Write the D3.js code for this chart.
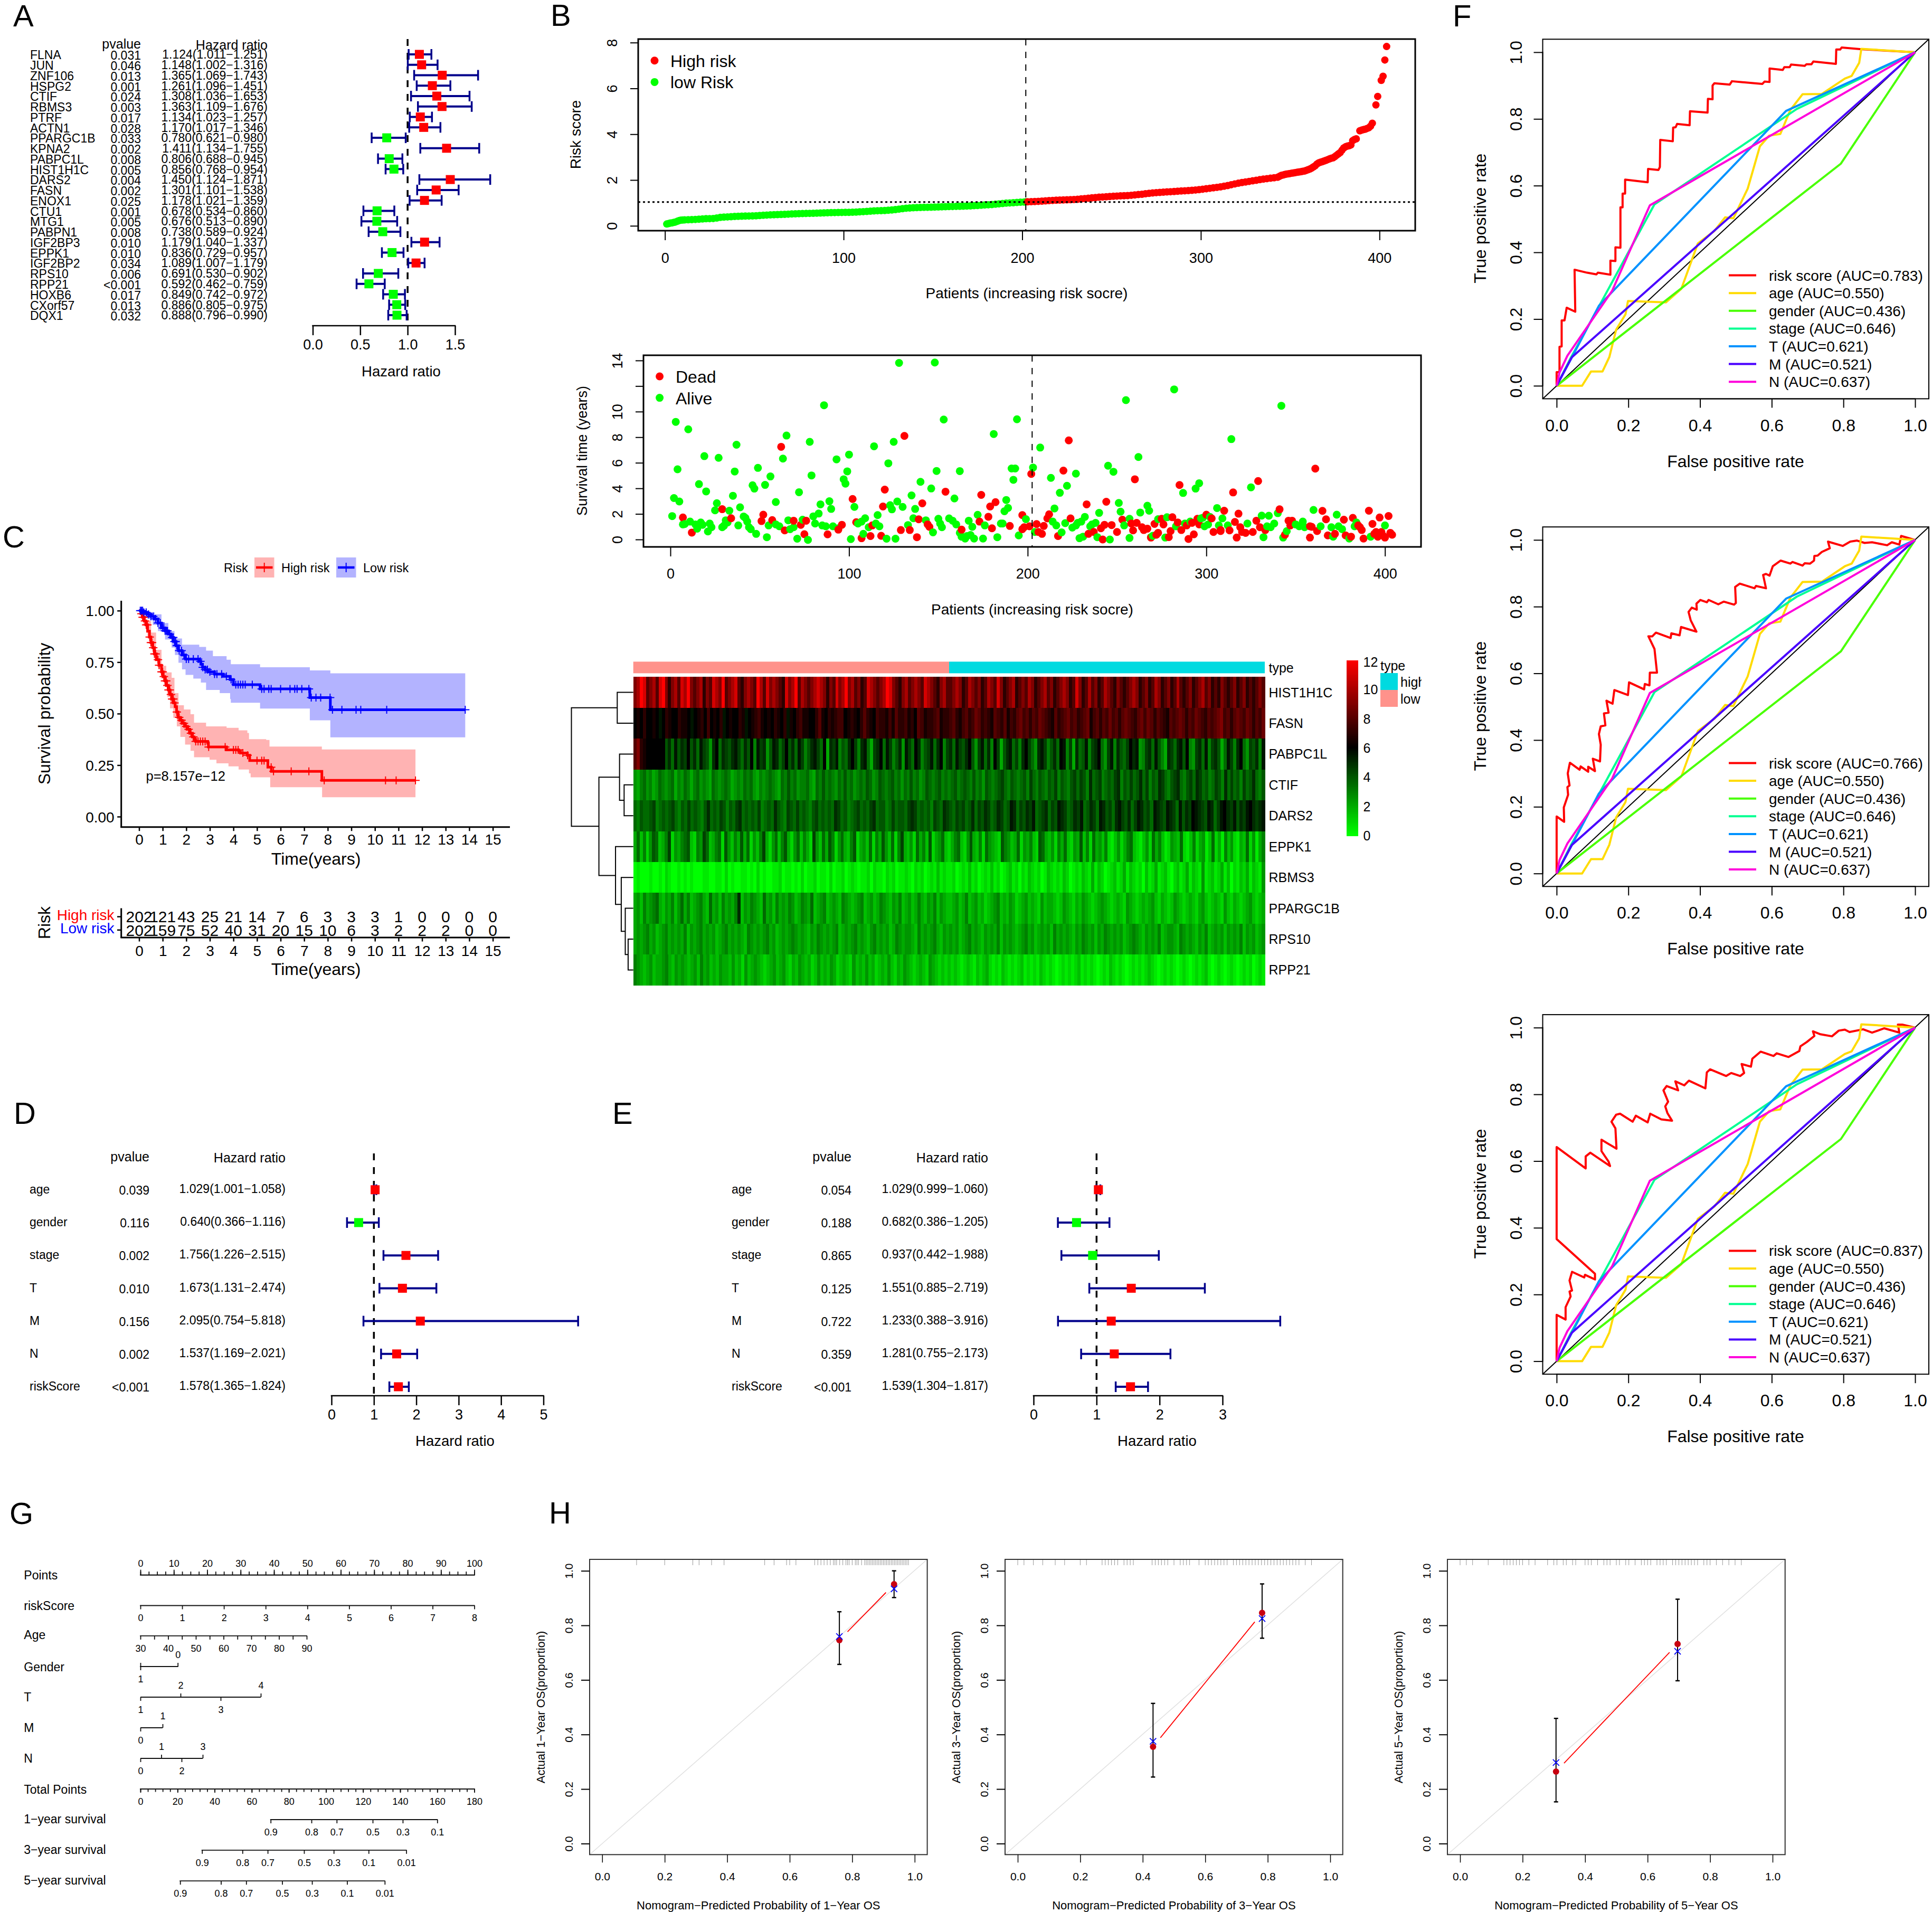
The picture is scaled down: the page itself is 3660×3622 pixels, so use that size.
<!DOCTYPE html>
<html><head><meta charset="utf-8">
<script src="https://cdn.jsdelivr.net/npm/d3@7"></script>
<style>html,body{margin:0;padding:0;background:#fff}svg{display:block}</style></head>
<body><script>
// ---------- Panel A data ----------
const geneNames=["FLNA","JUN","ZNF106","HSPG2","CTIF","RBMS3","PTRF","ACTN1","PPARGC1B","KPNA2","PABPC1L","HIST1H1C","DARS2","FASN","ENOX1","CTU1","MTG1","PABPN1","IGF2BP3","EPPK1","IGF2BP2","RPS10","RPP21","HOXB6","CXorf57","DQX1"];
const genePvals=["0.031","0.046","0.013","0.001","0.024","0.003","0.017","0.028","0.033","0.002","0.008","0.005","0.004","0.002","0.025","0.001","0.005","0.008","0.010","0.010","0.034","0.006","<0.001","0.017","0.013","0.032"];
const geneHR=[1.124,1.148,1.365,1.261,1.308,1.363,1.134,1.170,0.780,1.411,0.806,0.856,1.450,1.301,1.178,0.678,0.676,0.738,1.179,0.836,1.089,0.691,0.592,0.849,0.886,0.888];
const geneLow=[1.011,1.002,1.069,1.096,1.036,1.109,1.023,1.017,0.621,1.134,0.688,0.768,1.124,1.101,1.021,0.534,0.513,0.589,1.040,0.729,1.007,0.530,0.462,0.742,0.805,0.796];
const geneHigh=[1.251,1.316,1.743,1.451,1.653,1.676,1.257,1.346,0.980,1.755,0.945,0.954,1.871,1.538,1.359,0.860,0.890,0.924,1.337,0.957,1.179,0.902,0.759,0.972,0.975,0.990];
// ---------- Panels D / E data ----------
const clinNames=["age","gender","stage","T","M","N","riskScore"];
const uniP=["0.039","0.116","0.002","0.010","0.156","0.002","<0.001"];
const uniHR=[1.029,0.640,1.756,1.673,2.095,1.537,1.578];
const uniLow=[1.001,0.366,1.226,1.131,0.754,1.169,1.365];
const uniHigh=[1.058,1.116,2.515,2.474,5.818,2.021,1.824];
const multiP=["0.054","0.188","0.865","0.125","0.722","0.359","<0.001"];
const multiHR=[1.029,0.682,0.937,1.551,1.233,1.281,1.539];
const multiLow=[0.999,0.386,0.442,0.885,0.388,0.755,1.304];
const multiHigh=[1.060,1.205,1.988,2.719,3.916,2.173,1.817];
// ---------- Panel B data ----------
const lowRiskScores=[[1,.08],[2,.1],[3,.12],[4,.13],[5,.15],[6,.17],[7,.2],[8,.23],[9,.25],[10,.255],[11,.26],[13,.265],[15,.27],[17,.28],[19,.29],[21,.3],[23,.31],[25,.315],[27,.32],[29,.34],[31,.37],[33,.38],[35,.39],[37,.4],[39,.41],[41,.415],[43,.42],[45,.425],[47,.43],[49,.435],[51,.44],[53,.45],[55,.46],[57,.47],[59,.48],[61,.485],[63,.49],[65,.495],[67,.5],[69,.51],[71,.52],[73,.525],[75,.53],[77,.535],[79,.54],[81,.545],[83,.55],[85,.555],[87,.56],[89,.565],[91,.57],[93,.575],[95,.58],[97,.582],[99,.585],[101,.588],[103,.59],[105,.595],[107,.6],[109,.61],[111,.62],[113,.63],[115,.64],[117,.65],[119,.66],[121,.665],[123,.67],[125,.68],[127,.69],[129,.71],[131,.73],[133,.75],[135,.77],[137,.78],[139,.79],[141,.795],[143,.8],[145,.805],[147,.81],[149,.815],[151,.82],[153,.825],[155,.83],[157,.835],[159,.84],[161,.845],[163,.85],[165,.855],[167,.86],[169,.865],[171,.87],[173,.88],[175,.89],[177,.9],[179,.91],[181,.92],[183,.93],[185,.945],[187,.96],[189,.975],[191,.99],[193,1],[195,1.01],[197,1.02],[199,1.03],[201,1.04],[202,1.05]];
const highRiskScores=[[203,1.05],[205,1.055],[207,1.06],[209,1.07],[211,1.08],[213,1.09],[215,1.1],[217,1.11],[219,1.12],[221,1.125],[223,1.13],[225,1.135],[227,1.14],[229,1.15],[231,1.16],[233,1.175],[235,1.19],[237,1.205],[239,1.22],[241,1.235],[243,1.25],[245,1.26],[247,1.27],[249,1.28],[251,1.29],[253,1.3],[255,1.31],[257,1.315],[259,1.32],[261,1.335],[263,1.35],[265,1.365],[267,1.38],[269,1.4],[271,1.42],[273,1.435],[275,1.45],[277,1.46],[279,1.47],[281,1.48],[283,1.49],[285,1.5],[287,1.51],[289,1.52],[291,1.53],[293,1.54],[295,1.55],[297,1.565],[299,1.58],[301,1.6],[303,1.62],[305,1.64],[307,1.66],[309,1.68],[311,1.7],[313,1.73],[315,1.76],[317,1.795],[319,1.83],[321,1.86],[323,1.89],[325,1.915],[327,1.94],[329,1.965],[331,1.99],[333,2.015],[335,2.04],[337,2.06],[339,2.08],[341,2.1],[343,2.12],[344,2.16],[345,2.2],[346,2.22],[347,2.24],[348,2.26],[349,2.27],[350,2.285],[351,2.3],[352,2.31],[353,2.325],[354,2.34],[355,2.35],[356,2.365],[357,2.38],[358,2.39],[359,2.42],[360,2.45],[361,2.48],[362,2.52],[363,2.57],[364,2.62],[365,2.7],[366,2.75],[367,2.78],[368,2.8],[369,2.83],[370,2.86],[371,2.89],[372,2.92],[373,2.95],[374,2.97],[375,3.02],[376,3.08],[377,3.14],[378,3.2],[379,3.3],[380,3.4],[381,3.45],[382,3.48],[383,3.5],[384,3.53],[385,3.72],[386,3.77],[387,3.8],[389,4.15],[390,4.18],[391,4.2],[392,4.22],[393,4.25],[394,4.28],[395,4.35],[396,4.48],[398,5.28],[399,5.65],[401,6.35],[402,6.53],[403,7.24],[404,7.83]];
const alivePatients=[[128,13.81],[148,13.84],[282,11.74],[255,10.9],[86,10.5],[342,10.46],[153,9.38],[194,9.4],[3,9.2],[10,8.62],[181,8.25],[65,8.13],[314,7.85],[78,7.64],[125,7.64],[37,7.41],[114,7.29],[207,7.19],[100,6.64],[19,6.52],[27,6.39],[63,6.33],[93,6.27],[262,6.45],[122,5.96],[49,5.6],[4,5.49],[203,5.63],[191,5.55],[193,5.55],[149,5.36],[36,5.32],[99,5.33],[162,5.35],[245,5.77],[248,5.3],[227,5.15],[79,5.01],[56,4.93],[213,4.82],[97,4.71],[192,4.67],[98,4.37],[16,4.33],[140,4.51],[53,4.27],[46,4.24],[47,3.98],[222,4.2],[146,3.99],[296,4.4],[294,3.98],[287,3.64],[325,4.08],[218,3.65],[20,3.76],[72,3.7],[35,3.42],[135,3.45],[159,3.21],[188,3.09],[2,3.24],[5,2.97],[59,2.93],[26,2.84],[89,2.99],[127,2.97],[84,2.75],[130,2.55],[251,2.86],[267,2.64],[103,2.55],[39,2.52],[25,2.28],[123,2.68],[124,2.36],[90,2.39],[189,2.47],[187,2.21],[33,2.25],[137,2.39],[215,2.43],[306,2.46],[252,2.18],[360,2.31],[268,2.25],[263,2.11],[240,2.08],[116,1.91],[83,2.03],[172,1.93],[340,2.06],[331,1.87],[335,1.86],[1,1.83],[232,1.77],[373,1.94],[80,1.81],[41,1.8],[298,1.69],[136,1.66],[199,1.59],[309,1.65],[150,1.62],[156,1.65],[109,1.66],[257,1.62],[273,1.59],[278,1.74],[302,1.77],[7,1.18],[8,1.21],[11,1.4],[14,1.18],[17,1.33],[18,1.15],[22,1.25],[23,.96],[21,.63],[15,.85],[29,.96],[30,1.08],[31,1.5],[32,1.33],[38,1.1],[42,1.69],[43,1.4],[44,.96],[45,.81],[48,.44],[54,.18],[55,1.1],[59,1.18],[61,1.03],[66,1.5],[67,.81],[69,.96],[71,.06],[77,-.03],[74,1.55],[81,1.25],[85,1.1],[87,1.03],[91,1.03],[94,.88],[101,.03],[105,1.25],[108,.44],[107,1.4],[111,.96],[115,1.25],[117,1.03],[121,.06],[126,.06],[133,1.13],[143,1.5],[147,.56],[152,.96],[151,1.25],[158,1.47],[160,1.18],[162,.52],[163,.22],[165,.07],[166,.27],[168,.35],[170,.07],[169,.99],[167,1.47],[175,.07],[176,1.1],[183,.18],[185,1.25],[186,1.25],[195,.32],[204,.59],[214,1.4],[216,1.1],[219,.56],[221,1.28],[225,.93],[227,1.1],[229,.1],[231,.22],[228,1.3],[230,1.4],[235,1.03],[236,1.18],[238,1.3],[239,.18],[246,0],[254,1.1],[257,.12],[269,.18],[270,.29],[277,.15],[283,1.03],[288,1.25],[291,1.4],[297,1.65],[299,1.03],[301,1.18],[307,1.1],[312,1.1],[323,1.25],[332,.18],[334,1.03],[336,.96],[338,1.25],[343,.15],[345,.65],[350,1.18],[352,1.03],[354,1.4],[355,.96],[364,1.03],[370,.96],[371,.22],[374,1.03],[376,.81],[380,.07],[384,1.33],[383,1.03],[392,.22],[400,1.1]];
const deadPatients=[[131,8.1],[223,7.75],[62,7.25],[361,5.54],[220,5.39],[202,5.13],[260,4.71],[329,4.57],[285,4.26],[120,3.9],[154,3.74],[315,3.68],[174,3.49],[102,3.17],[182,2.92],[141,2.83],[179,2.58],[233,2.75],[244,2.95],[119,2.58],[29,2.37],[341,2.36],[365,2.24],[310,2.25],[391,2.25],[318,2.02],[197,1.91],[212,1.97],[178,1.78],[52,1.94],[7,1.72],[34,1.66],[224,1.65],[300,1.94],[303,1.65],[281,1.74],[275,1.62],[295,1.62],[292,1.3],[367,1.58],[377,1.55],[382,1.69],[397,1.72],[402,1.84],[139,1.58],[57,1.52],[51,1.44],[76,1.47],[69,1.47],[211,1.65],[205,1.21],[209,1.06],[173,1.4],[346,1.47],[253,1.55],[258,1.25],[261,1.3],[271,1.22],[276,1.18],[284,1.33],[289,1.1],[296,1.18],[316,1.37],[328,1.47],[247,1.13],[243,1.15],[104,1.35],[113,1.1],[96,1.15],[73,1.15],[144,1.18],[145,.99],[190,1.06],[180,.88],[201,1.03],[197,.81],[198,.96],[264,.96],[265,.74],[267,.85],[280,.66],[286,.74],[293,.4],[304,.59],[308,.74],[313,.71],[319,.96],[322,.52],[326,.59],[330,.96],[333,.74],[348,1.47],[347,1.1],[358,1.03],[359,.99],[362,.66],[368,.32],[372,.44],[378,.32],[381,.22],[385,1.1],[387,.74],[393,1.22],[358,.15],[163,.77],[129,.74],[134,.74],[64,.71],[12,.54],[75,.41],[88,.4],[107,.1],[112,.27],[118,.29],[138,.18],[206,.59],[208,.44],[217,.27],[234,.44],[237,.59],[241,.88],[242,0],[250,.59],[259,.71],[269,.15],[272,.37],[273,.52],[279,.19],[290,.04],[317,.15],[344,.37],[388,.07],[394,.44],[396,.22],[398,.59],[400,.15],[403,.52],[404,.37],[399,.29],[395,.59],[386,.96],[320,.59],[94,.77],[308,.66]];
// ---------- Panel B heatmap (letters a..y = 0..12 in half units) ----------
const heatGenes=["HIST1H1C","FASN","PABPC1L","CTIF","DARS2","EPPK1","RBMS3","PPARGC1B","RPS10","RPP21"];
const heatHIST="suywqsuqwysosuqwuysqsuosqwusyqsuwqosusqyuqwsusqowsuyqusqsuwusosqwsuysuqsoqwusqsuywsqosuqsusqwusqosuqqsusoqusqsoqusqwsoqsuoqsqusoqsuqsoqsusoqwsoquqsoqusqosqoqsusoqsoqusoqsoquqoqsoqsuqsoqosqoqsoqsoqoqsq";
const heatFASN="mnmommnmlmonmmonnmlmnompmnmolmnmmonlmnopnmnmonmolnmopnnmmoqnmonoppmnonmoqonmpoonpnqoopnomqpnoopqnoopqonpqoprqoponqpoqnpoqrpqoqprqponqopqrpqopqrnpqoqprpqoqrqpoqrprqoqponqpqrqoqprqpoqpqrspqoqrqprqoqpr";
const heatPABPC1L="qsonmmmmmmikhlikjmikhljifkmhkjikljhkimgljkfilkhjmikhljgikljhmekjlgihkmjgklhejkmhljgikfljhmkgijlhkmgjkhljikmifjlhkgmjeiklhjgkmjhfkljgikhmlgjekhilgjkmhfjlgkihjmklfgjkhligekjhklimgfjkhlgjkiehljgkmhfjikgl";
const heatCTIF="feghfgefhgfghegfhgeghfgfehgfghgefgfhghfegfghgfehgighfgghfehgighgfhgighfghgihfgihghighfhgighfgihghighghighihgighfihghijhgihghigjhgihgihjgihgijhjigkhijghihjkgihjhikhjgihkjhgijkhgijhkjhighjigkhjhigjhikhgi";
const heatDARS2="hgihhijghihijhgihjhihgikhihjigihjkhihihjghihkihgjihjhihgijhihihkjhighijhihjkhiighjhiihjkjhihigjihkjihjijhikhjikjhikjhilkhjikjlhijkhjilkjhikjlhikjhlkijhkljikhjlkijhlkjilkjhlikjmlkjilkhjlmkjlikjlmkjkl";
const heatEPPK1="ehdgcfihdegjcfeghidcgfjhdeghcifdgeiehcfdgjecfhdgiecfhdgecjfdheigcfhedgicefdhcgeifdhcgjedfchegdicefhdceghdcfiedgchfedcigfdehcfegdcihedfcgehdcfeidgchefdgcbdfceghdcbdfchegdbcfedhcbdgcefbdhcebgdfcbedhcfbeg";
const heatRBMS3="abaaabaabacbaabababaaabbaabbacabaabbabacabaabbcabbabacabbcabbacabbcabcbabbcacbbacbcabbcbacbcabcbdbcbbcabcbdbcabcbdbcabcdbcacbdcbcabdcbcbdcabcbdcbebdcabcdbcebdcbcadbcebcdbacdbcebdcbfbcdbcebdacbdcebdcbf";
const heatPPARGC1B="efdgefghedfegdfhegdefgedhefdgefegkdfegfedhefdgefegfdegfehdefgdefedgfedefgdefdegfedfegdefdegedfegdfeddefdegdefdecdefgdedfecdefdedcfdeedcdfedcedfedcdefedcdedcfedcdedefdcedcdfedcdedcefdcdedcfdcedcdefdcde";
const heatRPS10="efefgefdefgefefegdfefgefefdefgefefedgfefefgefdefefgfefedfegfefefgdefefgefedfgefefdegfeffedgefefgedfefefdefgefedfefegdfefedefgefdefefdgefefedfegfefdfegfefefdefgfedfefegdeffedgfefedfegdefefdfefegdfefdef";
const heatRPP21="gfedefdeefgedfefedefdgefdedfeedfdecfdefedcdefdefdcedfedecdfdedfecdedcfdedfdecdedfdcedfedcdedcfedcdcdcdcbcdcbdcdecbcbdcbcbcdbcbcbdcbcbabcbcbcdbcbcbabcbdcbcbabcbcbcdcbabcbcbabcbabcbcdbabcbabcbabcbcabcb";
const heatRows=[heatHIST,heatFASN,heatPABPC1L,heatCTIF,heatDARS2,heatEPPK1,heatRBMS3,heatPPARGC1B,heatRPS10,heatRPP21];
const dendroMerges=[[0,1,28],[3,4,16],[2,11,24],[8,9,9],[7,13,14],[6,14,21],[5,15,31],[12,16,60],[10,17,108]];
// ---------- Panel C data ----------
const kmHigh=[[0,1],[.08,.985],[.146,.968],[.22,.95],[.29,.931],[.36,.9],[.44,.872],[.5,.845],[.58,.82],[.65,.79],[.73,.762],[.84,.735],[.95,.703],[1.02,.68],[1.09,.659],[1.16,.637],[1.24,.615],[1.31,.593],[1.38,.571],[1.46,.552],[1.53,.534],[1.59,.508],[1.65,.482],[1.73,.468],[1.82,.453],[1.93,.438],[2.04,.424],[2.15,.405],[2.26,.387],[2.33,.375],[2.40,.365],[2.91,.357],[2.94,.338],[3.64,.338],[3.71,.324],[4.22,.32],[4.30,.309],[4.59,.298],[4.69,.272],[5.39,.272],[5.46,.24],[5.61,.22],[7.72,.22],[7.75,.176],[11.72,.176]];
const kmHighUp=[[0,1],[.25,.95],[.51,.894],[.72,.81],[.95,.732],[1.15,.70],[1.38,.674],[1.5,.6],[1.67,.541],[1.9,.52],[2.18,.497],[2.33,.456],[2.84,.438],[3.71,.431],[4.22,.419],[4.59,.406],[4.66,.376],[5.39,.372],[5.53,.34],[7.72,.34],[7.75,.326],[11.72,.326]];
const kmHighLo=[[0,1],[.18,.93],[.36,.865],[.58,.79],[.80,.718],[.95,.67],[1.09,.629],[1.2,.58],[1.31,.526],[1.45,.48],[1.60,.438],[1.75,.387],[1.95,.35],[2.18,.32],[2.33,.288],[2.99,.276],[3.28,.259],[3.79,.244],[4.22,.229],[4.66,.21],[4.73,.191],[5.53,.191],[5.56,.143],[7.75,.143],[7.76,.094],[11.72,.094]];
const kmLow=[[0,1],[.18,.992],[.36,.982],[.5,.972],[.66,.96],[.8,.94],[.95,.916],[1.1,.902],[1.24,.887],[1.35,.87],[1.46,.85],[1.57,.83],[1.67,.806],[1.82,.785],[1.97,.765],[2.55,.754],[2.62,.74],[2.69,.725],[2.8,.714],[2.91,.703],[3.2,.692],[3.57,.681],[3.86,.666],[4.0,.641],[5.10,.641],[5.13,.62],[7.21,.62],[7.24,.578],[8.08,.578],[8.11,.519],[13.83,.519]];
const kmLowUp=[[0,1],[.33,.992],[.66,.982],[.95,.94],[1.24,.901],[1.5,.865],[1.82,.835],[2.55,.824],[2.84,.806],[3.13,.779],[3.71,.762],[3.89,.74],[5.10,.74],[5.13,.725],[7.21,.725],[7.24,.71],[8.08,.71],[8.11,.696],[13.83,.696]];
const kmLowLo=[[0,1],[.18,.98],[.36,.96],[.58,.93],[.80,.901],[1.1,.86],[1.38,.821],[1.52,.785],[1.67,.747],[1.82,.715],[1.97,.688],[2.3,.67],[2.62,.651],[2.84,.615],[3.42,.6],[3.86,.571],[3.89,.553],[5.10,.553],[5.13,.525],[7.21,.525],[7.24,.468],[8.08,.468],[8.11,.385],[13.83,.385]];
const censorHigh=[.1,.15,.2,.25,.3,.35,.45,.5,.55,.6,.65,.7,.8,.85,.95,1,1.05,1.1,1.15,1.2,1.25,1.3,1.35,1.4,1.45,1.5,1.6,1.7,1.8,1.9,2.0,2.1,2.2,2.3,2.4,2.5,2.6,2.7,2.8,2.95,3.65,4.0,4.1,4.2,4.4,4.6,5.0,5.2,5.3,5.6,5.7,6.45,7.2,7.85,10.45,10.9,11.72];
const censorLow=[.05,.1,.15,.2,.3,.4,.5,.6,.7,.8,.9,1.0,1.05,1.1,1.15,1.2,1.3,1.4,1.45,1.5,1.55,1.6,1.7,1.8,1.9,2.0,2.1,2.3,2.5,2.6,2.7,2.8,2.9,3.0,3.2,3.3,3.5,3.7,3.9,4.1,4.2,4.3,4.4,4.5,4.8,5.2,5.3,5.5,5.6,6.0,6.4,6.6,6.7,6.9,7.2,7.3,7.5,7.7,8.1,8.2,8.6,9.2,9.4,10.5,13.83];
const riskHigh=[202,121,43,25,21,14,7,6,3,3,3,1,0,0,0,0];
const riskLow=[202,159,75,52,40,31,20,15,10,6,3,2,2,2,0,0];
// ---------- Panel F data ----------
const rocLabels=["risk score","age","gender","stage","T","M","N"];
const rocColors=["#FF0000","#FFDB00","#49FF00","#00FF92","#0092FF","#4900FF","#FF00DB"];
const rocAge=[[0,0],[.071,0],[.096,.043],[.128,.043],[.147,.086],[.166,.168],[.192,.214],[.199,.254],[.305,.25],[.348,.291],[.394,.427],[.44,.464],[.47,.505],[.493,.502],[.533,.591],[.567,.718],[.593,.75],[.624,.755],[.652,.827],[.686,.874],[.74,.875],[.804,.921],[.823,.929],[.844,.968],[.85,1.01],[1,1]];
const rocGender=[[0,0],[.793,.666],[1,1]];
const rocStage=[[0,0],[.04,.085],[.119,.24],[.273,.544],[.67,.83],[1,1]];
const rocT=[[0,0],[.04,.08],[.118,.24],[.64,.824],[1,1]];
const rocM=[[0,0],[.042,.085],[1,1]];
const rocN=[[0,0],[.008,.04],[.03,.09],[.155,.285],[.26,.541],[1,1]];
const rocRisk1=[[0,0],[0,.041],[.008,.041],[.008,.117],[.014,.118],[.014,.196],[.022,.196],[.028,.234],[.052,.222],[.05,.348],[.085,.339],[.111,.334],[.115,.339],[.15,.333],[.15,.375],[.164,.374],[.164,.415],[.178,.414],[.178,.535],[.184,.535],[.184,.576],[.191,.576],[.191,.618],[.254,.61],[.255,.65],[.284,.647],[.288,.656],[.289,.737],[.324,.733],[.325,.774],[.332,.775],[.336,.785],[.371,.781],[.372,.823],[.421,.819],[.422,.86],[.435,.859],[.435,.9],[.44,.907],[.483,.903],[.489,.913],[.574,.905],[.58,.912],[.594,.911],[.594,.951],[.631,.947],[.635,.955],[.65,.955],[.654,.963],[.692,.959],[.697,.964],[.711,.964],[.716,.972],[.779,.965],[.78,1.008],[.791,1.008],[.795,1.014],[.85,1.009],[1,1]];
const rocRisk2=[[0,0],[0,.171],[.021,.155],[.02,.198],[.032,.236],[.03,.259],[.036,.264],[.031,.3],[.037,.332],[.064,.311],[.067,.321],[.088,.305],[.088,.32],[.107,.307],[.101,.344],[.121,.336],[.123,.386],[.118,.418],[.123,.441],[.136,.444],[.132,.48],[.145,.482],[.139,.518],[.156,.509],[.161,.55],[.199,.535],[.202,.573],[.244,.552],[.246,.568],[.259,.564],[.26,.602],[.28,.602],[.273,.673],[.256,.711],[.267,.711],[.277,.722],[.318,.706],[.32,.72],[.343,.714],[.347,.739],[.39,.725],[.374,.759],[.368,.784],[.377,.797],[.391,.791],[.39,.809],[.401,.82],[.419,.813],[.424,.82],[.451,.807],[.466,.815],[.495,.806],[.5,.811],[.498,.859],[.511,.869],[.552,.855],[.556,.862],[.584,.855],[.576,.895],[.584,.898],[.594,.893],[.603,.921],[.625,.938],[.652,.929],[.658,.934],[.686,.923],[.692,.93],[.707,.929],[.718,.938],[.719,.952],[.728,.953],[.74,.964],[.762,.975],[.757,.995],[.798,.982],[.819,.995],[.838,.998],[.859,.991],[.88,.993],[.922,.984],[.935,.993],[.956,.986],[.961,1.012],[1,1]];
const rocRisk3=[[0,0],[0,.139],[.025,.125],[.025,.162],[.039,.194],[.036,.209],[.043,.212],[.036,.242],[.043,.268],[.077,.251],[.079,.259],[.107,.245],[.107,.262],[0,.366],[0,.642],[.081,.578],[.081,.614],[.094,.625],[.149,.585],[.145,.598],[.125,.63],[.125,.664],[.167,.637],[.164,.698],[.153,.718],[.166,.739],[.177,.742],[.212,.718],[.221,.736],[.254,.716],[.261,.742],[.292,.725],[.322,.721],[.309,.744],[.303,.764],[.311,.778],[.298,.812],[.307,.825],[.339,.812],[.331,.839],[.356,.827],[.369,.841],[.415,.818],[.419,.866],[.428,.875],[.473,.855],[.487,.864],[.512,.855],[.523,.864],[.516,.891],[.542,.883],[.546,.907],[.569,.928],[.605,.915],[.614,.923],[.647,.912],[.677,.93],[.68,.944],[.698,.957],[.719,.975],[.715,.989],[.736,.98],[.768,.974],[.787,.991],[.804,.994],[.817,.987],[.855,.995],[.88,.985],[.914,.998],[.956,.985],[.952,1.009],[.964,1.009],[1,1]];
const rocAucRisk=["0.783","0.766","0.837"];
const rocAucOther=["0.550","0.436","0.646","0.621","0.521","0.637"];
// ---------- Panel G data ----------
const surv1Pts=[70.2,92.2,105.8,125.2,141.4,160], surv1Lab=["0.9","0.8","0.7","0.5","0.3","0.1"];
const surv3Pts=[33.2,55,68.6,88.2,104.2,123,143.3], surv3Lab=["0.9","0.8","0.7","0.5","0.3","0.1","0.01"];
const surv5Pts=[21.4,43.4,57,76.4,92.5,111.4,131.7], surv5Lab=["0.9","0.8","0.7","0.5","0.3","0.1","0.01"];
// ---------- Panel H data ----------
const calPred=[[.759,.934],[.433,.782],[.307,.696]];
const calObs=[[.746,.951],[.355,.846],[.264,.732]];
const calUp=[[.85,1.0],[.514,.952],[.459,.896]];
const calLo=[[.657,.902],[.244,.753],[.153,.597]];
const calX=[[.759,.934],[.375,.825],[.297,.705]];
const rug1=[.11,.2,.29,.31,.35,.39,.52,.55,.59,.6,.62,.68,.69,.7,.71,.72,.73,.74,.745,.75,.76,.77,.78,.785,.79,.8,.81,.815,.82,.83,.84,.845,.85,.855,.86,.865,.87,.875,.88,.885,.89,.895,.9,.905,.91,.915,.92,.925,.93,.935,.94,.945,.95,.955,.96,.965,.97,.975,.98];
const rug2=[0,.02,.05,.08,.12,.15,.2,.22,.27,.28,.29,.3,.31,.32,.34,.35,.36,.37,.43,.44,.45,.46,.47,.48,.5,.52,.53,.54,.55,.58,.6,.61,.62,.63,.64,.65,.66,.67,.69,.7,.71,.72,.73,.74,.75,.76,.77,.78,.79,.8,.81,.82,.83,.84,.85,.86,.87,.88,.89,.9,.92,.94];
const rug3=[0,.02,.04,.09,.14,.15,.16,.17,.18,.19,.2,.22,.24,.28,.3,.31,.33,.34,.36,.37,.4,.41,.42,.44,.46,.47,.48,.5,.51,.53,.54,.56,.58,.59,.6,.61,.63,.64,.65,.66,.68,.69,.7,.71,.72,.73,.74,.75,.76,.78,.79,.8,.82,.84,.86,.88,.9];

// ================= helpers =================
const F='"Liberation Sans",Arial,Helvetica,sans-serif';
const svg=d3.select("body").append("svg").attr("width",3660).attr("height",3622).attr("viewBox","0 0 3660 3622");
svg.append("rect").attr("width",3660).attr("height",3622).attr("fill","#fff");
function T(x,y,s,o={}){
  const e=svg.append("text").attr("font-family",F).attr("font-size",o.fs||23).attr("fill",o.fill||"#000")
    .attr("text-anchor",o.a||"start").attr("dy",o.dy||".36em").text(s);
  if(o.rot) e.attr("transform",`translate(${x},${y}) rotate(${o.rot})`); else e.attr("x",x).attr("y",y);
  return e;
}
function L(g,x1,y1,x2,y2,c,w,d){const e=g.append("line").attr("x1",x1).attr("y1",y1).attr("x2",x2).attr("y2",y2).attr("stroke",c||"#000").attr("stroke-width",w||2);if(d)e.attr("stroke-dasharray",d);return e;}
function axis(orient,scale,values,pos,o={}){
  const gen=(orient==="bottom"?d3.axisBottom:orient==="top"?d3.axisTop:d3.axisLeft)(scale)
    .tickValues(values).tickSize(o.size==null?15:o.size).tickPadding(0).tickFormat(o.fmt||(d=>d));
  const g=svg.append("g").attr("transform",orient==="left"?`translate(${pos},0)`:`translate(0,${pos})`).call(gen);
  g.attr("font-family",F).attr("font-size",o.fs||27);
  g.select(".domain").remove();
  g.selectAll(".tick line").attr("stroke",o.c||"#000").attr("stroke-width",o.lw||2);
  const ext=d3.extent(values.map(v=>scale(v)));
  if(o.line!==false){
    if(orient==="left") L(g,0,ext[0],0,ext[1],o.c||"#000",o.lw||2).attr("stroke-linecap","square");
    else L(g,ext[0],0,ext[1],0,o.c||"#000",o.lw||2).attr("stroke-linecap","square");
  }
  const t=g.selectAll(".tick text").attr("fill","#000").attr("dy",".36em");
  const c=o.center||40;
  if(orient==="bottom") t.attr("y",c);
  else if(orient==="top") t.attr("y",-c);
  else if(o.rot) t.attr("x",0).attr("y",0).attr("text-anchor","middle").attr("transform",`translate(${-c},0) rotate(-90)`);
  else t.attr("x",-c).attr("text-anchor","end");
  return g;
}
function box(x0,y0,x1,y1,w,c){svg.append("rect").attr("x",x0).attr("y",y0).attr("width",x1-x0).attr("height",y1-y0).attr("fill","none").attr("stroke",c||"#000").attr("stroke-width",w||2.5);}
// letters
[["A",25,50],["B",1043,49],["C",5,1037],["D",26,2129],["E",1160,2129],["F",2752,50],["G",18,2887],["H",1040,2886]]
 .forEach(d=>T(d[1],d[2],d[0],{fs:58,dy:"0"}));

// ================= forest =================
function forest(c){
  const x=d3.scaleLinear().domain([c.ticks[0],c.ticks[c.ticks.length-1]]).range(c.xr);
  const y=i=>c.y0+i*c.dy;
  T(c.pX,c.hy,"pvalue",{fs:25,a:"end"});
  T(c.hX,c.hy+2,"Hazard ratio",{fs:25,a:"end"});
  L(svg,x(1),c.dashTop,x(1),c.axisY,"#000",3.5,"13 13");
  c.names.forEach((n,i)=>{
    T(c.nX,y(i)+c.nOff,n,{fs:c.fs});
    T(c.pX,y(i)+c.pOff,c.p[i],{fs:c.fs,a:"end"});
    T(c.hX,y(i)+c.hOff,`${c.hr[i].toFixed(3)}(${c.lo[i].toFixed(3)}\u2212${c.hi[i].toFixed(3)})`,{fs:c.fs,a:"end"});
  });
  const g=svg.append("g").selectAll("g").data(c.names).join("g");
  g.each(function(n,i){
    const s=d3.select(this),yy=y(i);
    L(s,x(c.lo[i]),yy,x(c.hi[i]),yy,"#00008B",4);
    L(s,x(c.lo[i]),yy-10,x(c.lo[i]),yy+10,"#00008B",3.5);
    L(s,x(c.hi[i]),yy-10,x(c.hi[i]),yy+10,"#00008B",3.5);
    s.append("rect").attr("x",x(c.hr[i])-8.5).attr("y",yy-8.5).attr("width",17).attr("height",17)
      .attr("fill",c.hr[i]>1?"#FF0000":"#00FF00");
  });
  axis("bottom",x,c.ticks,c.axisY,{size:c.tick,center:c.lab-c.axisY,fs:c.tfs,fmt:c.fmt,lw:2.5});
  T(c.tX,c.tY,"Hazard ratio",{fs:27.5,a:"middle"});
}
forest({names:geneNames,p:genePvals,hr:geneHR,lo:geneLow,hi:geneHigh,ticks:[0,.5,1,1.5],xr:[592.5,862],fmt:d3.format(".1f"),
 y0:103,dy:19.76,nX:57,pX:267,hX:507,hy:83,nOff:1,pOff:2,hOff:0,fs:23,dashTop:74,axisY:617,tick:18,lab:652.6,tfs:27,tX:760,tY:703});
forest({names:clinNames,p:uniP,hr:uniHR,lo:uniLow,hi:uniHigh,ticks:[0,1,2,3,4,5],xr:[628,1029.5],
 y0:2253.8,dy:62.2,nX:56,pX:283,hX:541,hy:2191,nOff:-1,pOff:1,hOff:-2,fs:23,dashTop:2185,axisY:2644,tick:18,lab:2679,tfs:27,tX:862,tY:2729});
forest({names:clinNames,p:multiP,hr:multiHR,lo:multiLow,hi:multiHigh,ticks:[0,1,2,3],xr:[1958,2316],
 y0:2253.8,dy:62.2,nX:1386,pX:1613,hX:1872,hy:2191,nOff:-1,pOff:1,hOff:-2,fs:23,dashTop:2185,axisY:2644,tick:18,lab:2679,tfs:27,tX:2192,tY:2729});

// ================= panel B scatter 1 =================
{
 const x=d3.scaleLinear().domain([0,400]).range([1259.7,2613.3]), y=d3.scaleLinear().domain([0,8]).range([427.8,80.7]);
 svg.append("g").selectAll("circle").data(lowRiskScores.map(d=>[...d,"#00FF00"]).concat(highRiskScores.map(d=>[...d,"#FF0000"])))
  .join("circle").attr("cx",d=>x(d[0])).attr("cy",d=>y(d[1])).attr("r",7).attr("fill",d=>d[2]);
 L(svg,1209,y(1.04),2681,y(1.04),"#000",3,"4 5");
 L(svg,x(202),74,x(202),437,"#000",2,"12 12");
 box(1209,74,2681,437,3);
 axis("bottom",x,[0,100,200,300,400],437,{size:18,center:51,fs:27,line:false});
 axis("left",y,[0,2,4,6,8],1209,{size:15,center:50,fs:27,rot:true,line:false});
 T(1090,255,"Risk score",{fs:28,a:"middle",rot:-90});
 T(1945,555,"Patients (increasing risk socre)",{fs:28,a:"middle"});
 svg.append("circle").attr("cx",1240).attr("cy",114.7).attr("r",7.5).attr("fill","#FF0000");
 svg.append("circle").attr("cx",1240).attr("cy",155.4).attr("r",7.5).attr("fill","#00FF00");
 T(1270,115,"High risk",{fs:32}); T(1270,155,"low Risk",{fs:32});
}
// ================= panel B scatter 2 =================
{
 const x=d3.scaleLinear().domain([0,400]).range([1270,2623.7]), y=d3.scaleLinear().domain([0,14]).range([1022,682.9]);
 const all=alivePatients.map(d=>[...d,"#00FF00"]).concat(deadPatients.map(d=>[...d,"#FF0000"])).sort((a,b)=>a[0]-b[0]);
 svg.append("g").selectAll("circle").data(all).join("circle").attr("cx",d=>x(d[0])).attr("cy",d=>y(d[1])).attr("r",7.5).attr("fill",d=>d[2]);
 L(svg,x(202.5),673,x(202.5),1036,"#000",2,"12 12");
 box(1219,673,2692,1036,3);
 axis("bottom",x,[0,100,200,300,400],1036,{size:18,center:50.4,fs:27,line:false});
 axis("left",y,[0,2,4,6,8,10,12,14],1219,{size:15,center:50,fs:27,rot:true,line:false,fmt:d=>d===12?"":d});
 T(1102,854,"Survival time (years)",{fs:27,a:"middle",rot:-90});
 T(1955.5,1154,"Patients (increasing risk socre)",{fs:28,a:"middle"});
 svg.append("circle").attr("cx",1249.6).attr("cy",713).attr("r",7.5).attr("fill","#FF0000");
 svg.append("circle").attr("cx",1249.6).attr("cy",753.6).attr("r",7.5).attr("fill","#00FF00");
 T(1280,713,"Dead",{fs:32}); T(1280,754,"Alive",{fs:32});
}
// ================= heatmap =================
{
 const X0=1199.7,X1=2396,Y0=1282.4,Y1=1866.6;
 const color=d3.scaleLinear().domain([0,6,12]).range(["#00FF00","#000000","#FF0000"]);
 const rowY=d3.scaleBand().domain(d3.range(10)).range([Y0,Y1]);
 const dec=c=>(c.charCodeAt(0)-97)/2;
 heatRows.forEach((str,r)=>{
  const vals=str.split("").map(dec), bx=d3.scaleBand().domain(d3.range(vals.length)).range([X0,X1]);
  svg.append("g").attr("shape-rendering","crispEdges").selectAll("rect").data(vals).join("rect")
   .attr("x",(d,i)=>bx(i)).attr("y",rowY(r)).attr("width",bx.bandwidth()+.6).attr("height",rowY.bandwidth()+.5).attr("fill",d=>color(d));
  T(2403.5,rowY(r)+rowY.bandwidth()/2,heatGenes[r],{fs:25});
 });
 svg.append("rect").attr("x",X0).attr("y",1253.4).attr("width",1798-X0).attr("height",22).attr("fill","#FF928B");
 svg.append("rect").attr("x",1798).attr("y",1253.4).attr("width",X1-1798).attr("height",22).attr("fill","#00DAE0");
 T(2403.5,1265,"type",{fs:25});
 // dendrogram
 const dx=d3.scaleLinear().domain([0,108]).range([X0,1082.5]);
 const nodes=d3.range(10).map(i=>({y:rowY(i)+rowY.bandwidth()/2,h:0}));
 const dg=svg.append("g");
 dendroMerges.forEach(m=>{
  const a=nodes[m[0]],b=nodes[m[1]];
  dg.append("path").attr("fill","none").attr("stroke","#000").attr("stroke-width",2)
   .attr("d",`M${dx(a.h)},${a.y}H${dx(m[2])}V${b.y}H${dx(b.h)}`);
  nodes.push({y:(a.y+b.y)/2,h:m[2]});
 });
 // colour bar
 const cy=d3.scaleLinear().domain([0,12]).range([1583,1251]);
 svg.append("g").attr("shape-rendering","crispEdges").selectAll("rect").data(d3.range(0,12,.1)).join("rect")
  .attr("x",2551).attr("width",22).attr("y",d=>cy(d+.1)).attr("height",cy(0)-cy(.1)+.6).attr("fill",d=>color(d));
 [0,2,4,6,8,10,12].forEach(v=>T(2582.5,cy(v)+(v===12?3:0),String(v),{fs:25}));
 T(2615,1261,"type",{fs:25});
 svg.append("rect").attr("x",2615).attr("y",1275).attr("width",33).attr("height",32).attr("fill","#00DAE0");
 svg.append("rect").attr("x",2615).attr("y",1307).attr("width",33).attr("height",32).attr("fill","#FF928B");
 svg.append("clipPath").attr("id","hc").append("rect").attr("x",2640).attr("y",1270).attr("width",53).attr("height",70);
 T(2653,1292,"high",{fs:25}).attr("clip-path","url(#hc)");
 T(2653,1324,"low",{fs:25});
}
// ================= panel C =================
{
 const x=d3.scaleLinear().domain([0,15]).range([263.5,933.6]), y=d3.scaleLinear().domain([0,1]).range([1547,1156.8]);
 const steps=a=>{const o=[];a.forEach((p,i)=>{o.push(p);if(i<a.length-1)o.push([a[i+1][0],p[1]]);});return o;};
 const ln=d3.line().x(d=>x(d[0])).y(d=>y(d[1]));
 [[kmHighUp,kmHighLo,"#FFB3B3"],[kmLowUp,kmLowLo,"#B3B3FF"]].forEach(d=>{
  svg.append("path").attr("fill",d[2]).attr("d",ln(steps(d[0]).concat(steps(d[1]).reverse()))+"Z");
 });
 const surv=(a,t)=>a[Math.max(0,d3.bisectRight(a.map(p=>p[0]),t)-1)][1];
 [[kmHigh,censorHigh,"#FF0000"],[kmLow,censorLow,"#0000FF"]].forEach(d=>{
  svg.append("path").attr("fill","none").attr("stroke",d[2]).attr("stroke-width",5).attr("d",ln(steps(d[0])));
  const g=svg.append("g");
  d[1].forEach(t=>{const X=x(t),Y=y(surv(d[0],t));L(g,X-8,Y,X+8,Y,d[2],2);L(g,X,Y-7.5,X,Y+7.5,d[2],2);});
 });
 axis("left",y,[0,.25,.5,.75,1],229.7,{size:7.5,center:13,fs:28,lw:2.5,line:false,fmt:d3.format(".2f")});
 axis("bottom",x,d3.range(16),1566.7,{size:7.5,center:23.5,fs:28,lw:2.5,line:false});
 L(svg,229.7,1138,229.7,1567.9,"#000",3); L(svg,228.5,1566.7,966,1566.7,"#000",3);
 T(83,1352,"Survival probability",{fs:32,a:"middle",rot:-90});
 T(598.6,1626,"Time(years)",{fs:32,a:"middle"});
 T(276.5,1470,"p=8.157e\u221212",{fs:25.5});
 T(424,1076,"Risk",{fs:23.5});
 [[482,"#FFB3B3","#FF0000","High risk",533],[637,"#B3B3FF","#0000FF","Low risk",688]].forEach(d=>{
  svg.append("rect").attr("x",d[0]).attr("y",1056).attr("width",37.5).attr("height",38).attr("fill",d[1]);
  L(svg,d[0]+3,1075,d[0]+34.5,1075,d[2],4.5); L(svg,d[0]+18.7,1066,d[0]+18.7,1084,d[2],2);
  T(d[4],1076,d[3],{fs:23.5});
 });
 // risk table
 const yr=d3.scalePoint().domain(["High risk","Low risk"]).range([1736.6,1761.8]);
 L(svg,229.7,1720.5,229.7,1777,"#000",3); L(svg,228.5,1776,966,1776,"#000",3);
 yr.domain().forEach((n,j)=>{L(svg,222,yr(n),229.7,yr(n),"#000",2.5);
  T(216.6,yr(n)-3.5,n,{fs:28,a:"end",fill:j?"#0000FF":"#FF0000"});
  (j?riskLow:riskHigh).forEach((v,i)=>T(x(i),yr(n),String(v),{fs:30,a:"middle"}));
 });
 axis("bottom",x,d3.range(16),1776,{size:7.5,center:25,fs:28,lw:2.5,line:false});
 T(83,1748,"Risk",{fs:32,a:"middle",rot:-90});
 T(598.6,1835,"Time(years)",{fs:32,a:"middle"});
}
// ================= panel F =================
[rocRisk1,rocRisk2,rocRisk3].forEach((risk,k)=>{
 const dy=k*923.9;
 const x=d3.scaleLinear().domain([0,1]).range([2948.9,3628]), y=d3.scaleLinear().domain([0,1]).range([730.8+dy,98.9+dy]);
 const top=74.3+dy,bot=755.4+dy;
 const ln=d3.line().x(d=>x(d[0])).y(d=>y(d[1]));
 L(svg,2922.5,bot,3654,top,"#000",2);
 [risk,rocAge,rocGender,rocStage,rocT,rocM,rocN].forEach((c,i)=>
  svg.append("path").attr("d",ln(c)).attr("fill","none").attr("stroke",rocColors[i]).attr("stroke-width",4).attr("stroke-linejoin","round"));
 box(2922.5,top,3654,bot,2);
 axis("bottom",x,[0,.2,.4,.6,.8,1],bot,{size:17,center:49.6,fs:32,fmt:d3.format(".1f"),lw:2});
 axis("left",y,[0,.2,.4,.6,.8,1],2922.5,{size:17,center:51.5,fs:32,rot:true,fmt:d3.format(".1f"),lw:2});
 T(3288,873+dy,"False positive rate",{fs:32,a:"middle"});
 T(2803,413.7+dy,"True positive rate",{fs:32,a:"middle",rot:-90});
 const aucs=[rocAucRisk[k],...rocAucOther];
 rocLabels.forEach((n,i)=>{const ly=521.6+dy+i*33.6;
  L(svg,3275,ly,3327,ly,rocColors[i],4);
  T(3351,ly,`${n} (AUC=${aucs[i]})`,{fs:28});
 });
});
// ================= panel G =================
{
 const pts=d3.scaleLinear().domain([0,100]).range([266,898.6]);
 const tot=d3.scaleLinear().domain([0,180]).range([266,898.6]);
 const lab=(y,s)=>T(45.3,y,s,{fs:23});
 const o={fs:18,lw:1.8,c:"#111"};
 const ofs=a=>Object.assign({},o,a);
 lab(2984,"Points");
 axis("top",pts,d3.range(0,100.1,2.5),2983.6,ofs({size:6.5,center:22,fmt:()=>""}));
 axis("top",pts,d3.range(0,101,10),2983.6,ofs({size:10,center:22}));
 lab(3042,"riskScore");
 axis("bottom",d3.scaleLinear().domain([0,8]).range([266,898.6]),d3.range(0,9),3041.5,ofs({size:7,center:23.5}));
 lab(3097,"Age");
 const ageS=d3.scaleLinear().domain([30,90]).range([266,581]);
 axis("bottom",ageS,d3.range(30,91,5),3098.9,ofs({size:7,center:24,fmt:d=>d%10?"":d}));
 lab(3158,"Gender");
 const gS=d3.scaleLinear().domain([1,0]).range([266,336.7]);
 axis("top",gS,[0,1],3157,ofs({size:7,center:22,fmt:d=>d?"":d}));
 axis("bottom",gS,[1],3157,ofs({size:7,center:24,line:false}));
 lab(3215,"T");
 const tS=d3.scaleLinear().domain([1,4]).range([266,494]);
 axis("top",tS,[2,4],3215,ofs({size:7,center:22,line:false}));
 axis("bottom",tS,[1,3],3215,ofs({size:7,center:24,line:false}));
 L(svg,tS(1),3215,tS(4),3215,"#111",1.8);
 lab(3273,"M");
 const mS=d3.scaleLinear().domain([0,1]).range([266,308]);
 axis("top",mS,[1],3273,ofs({size:7,center:22,line:false}));
 axis("bottom",mS,[0],3273,ofs({size:7,center:23.5,line:false}));
 L(svg,mS(0),3273,mS(1),3273,"#111",1.8);
 lab(3331,"N");
 const nPos=[266,305.5,344,384];
 const nS=d3.scaleOrdinal().domain([0,1,2,3]).range(nPos);
 axis("top",nS,[1,3],3331,ofs({size:7,center:22,line:false}));
 axis("bottom",nS,[0,2],3331,ofs({size:7,center:23.5,line:false}));
 L(svg,nS(0),3331,nS(3),3331,"#111",1.8);
 lab(3390,"Total Points");
 axis("bottom",tot,d3.range(0,181,4),3389,ofs({size:5.5,center:23.5,fmt:()=>""}));
 axis("bottom",tot,d3.range(0,181,20),3389,ofs({size:7,center:23.5}));
 [["1\u2212year survival",surv1Pts,surv1Lab,3447],["3\u2212year survival",surv3Pts,surv3Lab,3504.8],["5\u2212year survival",surv5Pts,surv5Lab,3563.2]].forEach(r=>{
  lab(r[3]-1.5,r[0]);
  axis("bottom",tot,r[1],r[3],ofs({size:7,center:23.5,fmt:(d,i)=>r[2][i]}));
 });
}
// ================= panel H =================
[[1117,1756.6,1140.8,1732.8,1024,rug1],[1904,2543.7,1928,2520,1811,rug2],[2742,3381.7,2766,3358,2649,rug3]].forEach((p,k)=>{
 const yrs=[1,3,5][k];
 const x=d3.scaleLinear().domain([0,1]).range([p[2],p[3]]), y=d3.scaleLinear().domain([0,1]).range([3492.4,2975.7]);
 const top=2954,bot=3513.3;
 L(svg,p[0],bot,p[1],top,"#e0e0e0",1.5);
 const rg=svg.append("g");
 p[5].forEach(v=>L(rg,x(v),top,x(v),top+11,"#999",1));
 const [x0,x1]=calPred[k].map(x),[y0,y1]=calObs[k].map(y);
 const len=Math.hypot(x1-x0,y1-y0),gap=22/len;
 L(svg,x0+(x1-x0)*gap,y0+(y1-y0)*gap,x1-(x1-x0)*gap,y1-(y1-y0)*gap,"#FF0000",1.8);
 calPred[k].forEach((v,i)=>{
  const X=x(v);
  L(svg,X,y(calUp[k][i]),X,y(calLo[k][i]),"#000",2);
  L(svg,X-4,y(calUp[k][i]),X+4,y(calUp[k][i]),"#000",2.5);
  L(svg,X-4,y(calLo[k][i]),X+4,y(calLo[k][i]),"#000",2.5);
  svg.append("circle").attr("cx",X).attr("cy",y(calObs[k][i])).attr("r",6).attr("fill","#C80010");
  const by=y(calX[k][i]);
  L(svg,X-6,by-6,X+6,by+6,"#0000FF",1.8); L(svg,X-6,by+6,X+6,by-6,"#0000FF",1.8);
 });
 box(p[0],top,p[1],bot,2,"#333");
 axis("bottom",x,[0,.2,.4,.6,.8,1],bot,{size:15,center:41,fs:21,fmt:d3.format(".1f"),line:false,lw:1.5});
 axis("left",y,[0,.2,.4,.6,.8,1],p[0],{size:16,center:40,fs:21,rot:true,fmt:d3.format(".1f"),line:false,lw:2});
 T(p[4],3234,`Actual ${yrs}\u2212Year OS(proportion)`,{fs:22,a:"middle",rot:-90});
 T((p[0]+p[1])/2,3609,`Nomogram\u2212Predicted Probability of ${yrs}\u2212Year OS`,{fs:22,a:"middle"});
});
</script></body></html>
